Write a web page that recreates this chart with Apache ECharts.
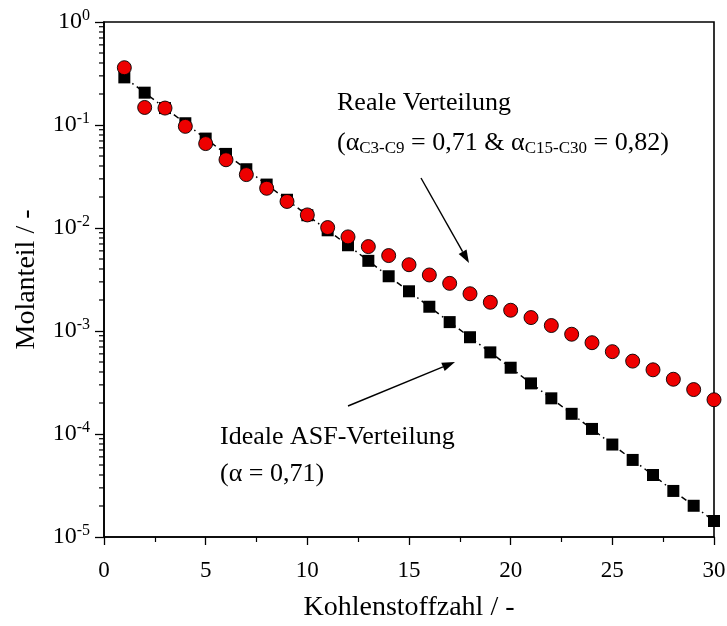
<!DOCTYPE html>
<html>
<head>
<meta charset="utf-8">
<script src="https://cdn.jsdelivr.net/npm/echarts@6/dist/echarts.min.js"></script>
<style>
html,body{margin:0;padding:0;background:#fff;}
#c{width:727px;height:626px;}
</style>
</head>
<body>
<div id="c"></div>
<script>
// Carbon number
var carbonNumbers = [1,2,3,4,5,6,7,8,9,10,11,12,13,14,15,16,17,18,19,20,21,22,23,24,25,26,27,28,29,30];
// Ideale ASF-Verteilung (alpha = 0,71)
var idealASF = [0.29,0.206,0.146,0.104,0.0738,0.0524,0.0372,0.0264,0.0188,0.0133,0.0095,0.0068,0.0048,0.0034,0.00243,0.00172,0.00122,0.00087,0.00062,0.00044,0.00031,0.000222,0.000157,0.000112,0.000079,0.000056,0.000040,0.000028,0.0000201,0.0000143];
// Reale Verteilung
var realDist = [0.36,0.148,0.146,0.097,0.066,0.046,0.033,0.0243,0.0181,0.0134,0.0101,0.0082,0.0066,0.0054,0.0044,0.0035,0.0029,0.0023,0.00190,0.00159,0.00135,0.00113,0.00093,0.00077,0.00063,0.00051,0.00042,0.00034,0.00027,0.000215];
var xTicks = [0,5,10,15,20,25,30];
var yDecades = [-5,-4,-3,-2,-1,0];

var FONT = '"Liberation Serif", "DejaVu Serif", serif';
var chart = echarts.init(document.getElementById('c'), null, {renderer:'canvas'});

function pair(xs, ys){ return xs.map(function(x,i){return [x, ys[i]];}); }

var option = {
  animation:false,
  backgroundColor:'#fff',
  grid:{left:104, right:13, top:22, bottom:89, show:true, borderColor:'#000', borderWidth:1.6,
        backgroundColor:'transparent', containLabel:false, outerBoundsMode:'none'},
  xAxis:{
    type:'value', min:xTicks[0], max:xTicks[xTicks.length-1], interval:5,
    name:'Kohlenstoffzahl / -', nameLocation:'middle', nameGap:57,
    nameTextStyle:{fontFamily:FONT, fontSize:28, color:'#000'},
    axisLine:{show:true, lineStyle:{color:'#000', width:1.6}},
    axisTick:{show:true, inside:false, length:8, lineStyle:{color:'#000', width:1.3}},
    minorTick:{show:true, splitNumber:2, length:5, lineStyle:{color:'#000', width:1.2}},
    axisLabel:{fontFamily:FONT, fontSize:23, color:'#000', margin:22},
    splitLine:{show:false}
  },
  yAxis:{
    type:'log', logBase:10, min:1e-5, max:1,
    name:'Molanteil / -', nameLocation:'middle', nameGap:63, nameRotate:90,
    nameTextStyle:{fontFamily:FONT, fontSize:28, color:'#000'},
    axisLine:{show:true, lineStyle:{color:'#000', width:1.6}},
    axisTick:{show:true, inside:false, length:9, lineStyle:{color:'#000', width:1.3}},
    minorTick:{show:false},
    splitLine:{show:false},
    axisLabel:{
      margin:14, color:'#000',
      formatter:function(v){
        var e = Math.round(Math.log(v)/Math.LN10);
        return '{b|10}{s|' + e + '}';
      },
      rich:{
        b:{fontFamily:FONT, fontSize:24, color:'#000'},
        s:{fontFamily:FONT, fontSize:16, color:'#000', padding:[0,0,13,0]}
      }
    }
  },
  series:[
    {
      name:'Ideale ASF-Verteilung', type:'line', data:pair(carbonNumbers, idealASF),
      symbol:'rect', symbolSize:12, showSymbol:true,
      itemStyle:{color:'#000', opacity:1},
      lineStyle:{color:'#000', width:1.5, type:[6,4,1.5,4]},
      z:2
    },
    {
      name:'Reale Verteilung', type:'scatter', data:pair(carbonNumbers, realDist),
      symbol:'circle', symbolSize:14,
      itemStyle:{color:'#ee0000', borderColor:'#000', borderWidth:0.9, opacity:1},
      z:3
    }
  ]
};
chart.setOption(option);

// minor ticks on the log axis (2..9 per decade), positioned through the axis scale
var g = [];
var x0 = chart.convertToPixel({xAxisIndex:0}, 0);
for (var d=0; d<yDecades.length-1; d++){
  for (var k=2; k<=9; k++){
    var v = k*Math.pow(10, yDecades[d]);
    var py = chart.convertToPixel({yAxisIndex:0}, v);
    g.push({type:'line', shape:{x1:x0-5, y1:py, x2:x0, y2:py}, style:{stroke:'#000', lineWidth:1.2}, z:10});
  }
}
function arrow(x1,y1,x2,y2){
  var ang = Math.atan2(y2-y1, x2-x1), L=13, W=4.5;
  var bx = x2 - L*Math.cos(ang), by = y2 - L*Math.sin(ang);
  var nx = -Math.sin(ang), ny = Math.cos(ang);
  g.push({type:'line', shape:{x1:x1,y1:y1,x2:bx,y2:by}, style:{stroke:'#000', lineWidth:1.4}, z:20});
  g.push({type:'polygon', shape:{points:[[x2,y2],[bx+nx*W,by+ny*W],[bx-nx*W,by-ny*W]]}, style:{fill:'#000'}, z:20});
}
arrow(421,178,469,263);
arrow(348,406,455,362);
var txt = {fontFamily:FONT, fontSize:26, fill:'#000'};
g.push({type:'text', x:337, y:103, style:Object.assign({text:'Reale Verteilung', verticalAlign:'middle'}, txt), z:20});
g.push({type:'text', x:337, y:143, style:Object.assign({
  text:'(α{sub|C3-C9} = 0,71 & α{sub|C15-C30} = 0,82)', verticalAlign:'middle',
  rich:{sub:{fontFamily:FONT, fontSize:17, fill:'#000', padding:[12,0,0,0]}}
}, txt), z:20});
g.push({type:'text', x:220, y:437, style:Object.assign({text:'Ideale ASF-Verteilung', verticalAlign:'middle'}, txt), z:20});
g.push({type:'text', x:220, y:474, style:Object.assign({text:'(α = 0,71)', verticalAlign:'middle'}, txt), z:20});
chart.setOption({graphic:g});
</script>
</body>
</html>
